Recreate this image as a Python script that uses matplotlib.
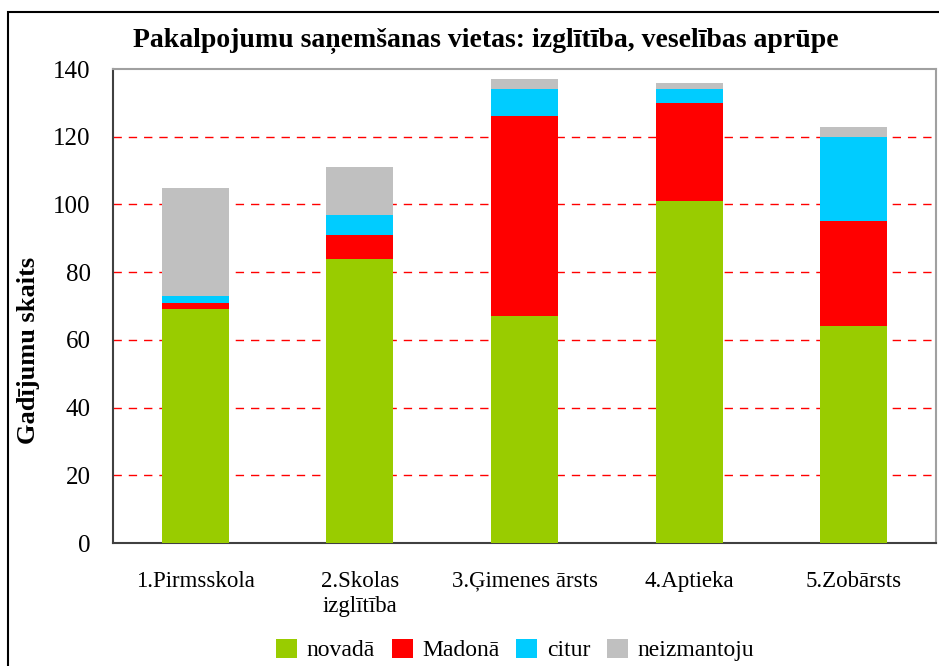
import matplotlib
matplotlib.use("Agg")
import matplotlib.pyplot as plt
from matplotlib.patches import Rectangle, Patch
import numpy as np

categories = ["1.Pirmsskola", "2.Skolas\nizglītība", "3.Ģimenes ārsts", "4.Aptieka", "5.Zobārsts"]
series_names = ["novadā", "Madonā", "citur", "neizmantoju"]
novada = [69, 84, 67, 101, 64]
madona = [2, 7, 59, 29, 31]
citur = [2, 6, 8, 4, 25]
neizmantoju = [32, 14, 3, 2, 3]
colors = ["#99cc00", "#ff0000", "#00ccff", "#c0c0c0"]
yticks = [0, 20, 40, 60, 80, 100, 120, 140]

plt.rcParams['font.family'] = ['Liberation Serif', 'DejaVu Serif']

fig = plt.figure(figsize=(9.39, 6.66), dpi=100)
ax = fig.add_axes([113/939, 1-543/666, 823/939, 474/666])

x = np.arange(len(categories))
bottom = np.zeros(len(categories))
for vals, c, name in zip([novada, madona, citur, neizmantoju], colors, series_names):
    ax.bar(x, vals, bottom=bottom, width=0.407, color=c, label=name, zorder=3)
    bottom += np.array(vals)

ax.set_xlim(-0.5, 4.5)
ax.set_ylim(0, 140)
ax.set_yticks(yticks)
ax.set_yticklabels([str(v) for v in yticks], fontsize=18)
ax.set_xticks(x)
ax.set_xticklabels(categories, fontsize=16.5, linespacing=1.25)
ax.tick_params(axis='y', length=0, pad=16)
ax.tick_params(axis='x', length=0, pad=20)

for v in yticks[1:-1]:
    ax.axhline(v, color='#ff0000', lw=1.0, dashes=(6, 5), zorder=1)

for s in ['left', 'bottom']:
    ax.spines[s].set_color('#404040')
    ax.spines[s].set_linewidth(1.5)
for s in ['top', 'right']:
    ax.spines[s].set_color('#a0a0a0')
    ax.spines[s].set_linewidth(1.5)

ax.set_ylabel("Gadījumu skaits", fontsize=19, fontweight='bold')
ax.yaxis.set_label_coords((40-113)/823, (543-350)/474)

fig.text(0.517, 1-41/666, "Pakalpojumu saņemšanas vietas: izglītība, veselības aprūpe",
         ha='center', va='center', fontsize=20, fontweight='bold')

handles = [Patch(facecolor=c, edgecolor='none') for c in colors]
fig.legend(handles, series_names, loc='center', bbox_to_anchor=(515/939, 1-650/666), ncol=4,
           frameon=False, fontsize=17, handlelength=0.9, handleheight=0.9,
           handletextpad=0.4, columnspacing=0.7)

border = Rectangle((8/939, -0.1), 1.2, 1-12/666+0.1, transform=fig.transFigure,
                   fill=False, edgecolor='black', lw=1.5, clip_on=False)
fig.patches.append(border)

fig.savefig("out.png", dpi=100)
